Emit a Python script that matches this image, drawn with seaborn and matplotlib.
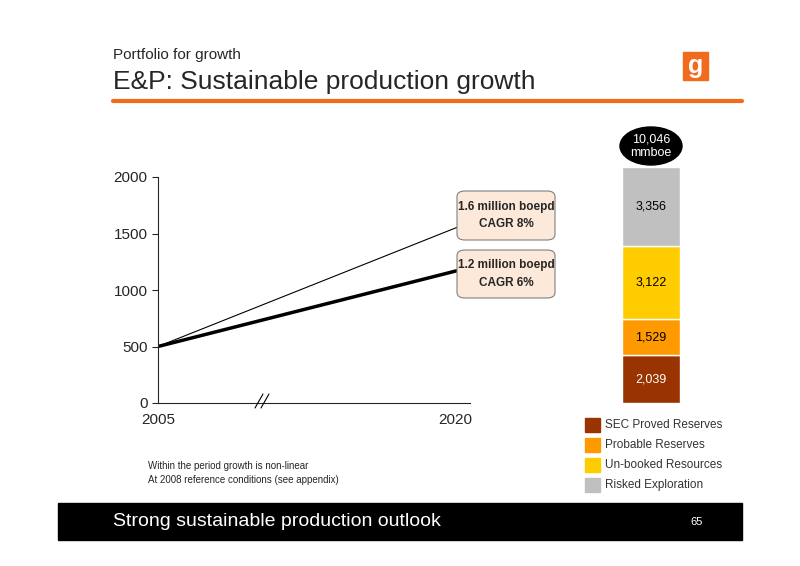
import matplotlib
matplotlib.use("Agg")
import matplotlib.pyplot as plt
import seaborn as sns
import pandas as pd
from matplotlib.patches import FancyBboxPatch, Ellipse, Rectangle

sns.set_style("white")
plt.rcParams['font.family'] = ['Liberation Sans', 'DejaVu Sans']

years = [2005, 2020]
high_case = [500, 1600]
base_case = [500, 1200]
res_labels = ["SEC Proved Reserves", "Probable Reserves", "Un-booked Resources", "Risked Exploration"]
res_values = [2039, 1529, 3122, 3356]
res_colors = ["#993300", "#FF9900", "#FFCC00", "#C0C0C0"]

W, H = 800, 566
fig = plt.figure(figsize=(8, 5.66), dpi=100)

def fx(x): return x / W
def fy(y): return 1 - y / H

# header
fig.text(fx(113), fy(55), "Portfolio for growth", fontsize=11, va="center")
fig.text(fx(113), fy(82), "E&P: Sustainable production growth", fontsize=19, va="center")
fig.add_artist(plt.Line2D([fx(113), fx(742)], [fy(101), fy(101)], color="#F26B1D", lw=3))
fig.add_artist(Rectangle((fx(683), fy(80)), fx(25), 28 / H, color="#F26B1D", transform=fig.transFigure))
fig.text(fx(695.5), fy(66), "g", color="white", fontsize=18, fontweight="bold", ha="center", va="center")

# line chart
ax = fig.add_axes([fx(158), fy(403), fx(470 - 158), (403 - 177) / H])
df = pd.DataFrame({"year": years * 2, "val": high_case + base_case,
                   "case": ["high"] * 2 + ["base"] * 2})
sns.lineplot(data=df, x="year", y="val", hue="case", size="case",
             palette={"high": "black", "base": "black"}, sizes={"high": 0.8, "base": 2.5},
             legend=False, ax=ax)
ax.set_xlim(2005, 2020)
ax.set_ylim(0, 2000)
ax.set_yticks([0, 500, 1000, 1500, 2000])
ax.set_xticks([])
ax.set_xlabel("")
ax.set_ylabel("")
ax.tick_params(labelsize=11, length=4, left=True)
ax.spines["top"].set_visible(False)
ax.spines["right"].set_visible(False)
fig.text(fx(158), fy(420), "2005", fontsize=11, ha="center", va="center")
fig.text(fx(455), fy(420), "2020", fontsize=11, ha="center", va="center")
for dx in (-3, 3):
    fig.add_artist(plt.Line2D([fx(258 + dx), fx(266 + dx)], [fy(408), fy(394)], color="black", lw=0.8))

for (y0, y1, txt) in [(191, 240, "1.6 million boepd\nCAGR 8%"), (250, 298, "1.2 million boepd\nCAGR 6%")]:
    fig.add_artist(FancyBboxPatch((fx(457), fy(y1)), fx(98), (y1 - y0) / H,
                                  boxstyle="round,pad=0,rounding_size=0.01",
                                  fc="#FCE9D9", ec="#808080", lw=0.8, transform=fig.transFigure))
    fig.text(fx(506), fy((y0 + y1) / 2), txt, fontsize=8.5, fontweight="bold",
             ha="center", va="center", linespacing=1.6)

# stacked bar
bx = fig.add_axes([fx(622), fy(403), fx(58), (403 - 167) / H])
bottom = 0
for lab, v, c in zip(res_labels, res_values, res_colors):
    bx.bar([0], [v], bottom=bottom, color=c, width=1.0)
    txtc = "white" if lab.startswith("SEC") else "black"
    bx.text(0, bottom + v / 2, f"{v:,}", ha="center", va="center", fontsize=9, color=txtc)
    bottom += v
bx.set_xlim(-0.5, 0.5)
bx.set_ylim(0, sum(res_values))
bx.axis("off")

fig.add_artist(Ellipse((fx(651), fy(146)), fx(62), 38 / H, color="black", transform=fig.transFigure))
fig.text(fx(651), fy(146), f"{sum(res_values):,}\nmmboe", color="white", fontsize=9,
         ha="center", va="center")

for i, (lab, c) in enumerate(zip(res_labels, res_colors)):
    y = 425 + 20 * i
    fig.add_artist(Rectangle((fx(585), fy(y + 7)), fx(15), 14 / H, color=c, transform=fig.transFigure))
    fig.text(fx(605), fy(y), lab, fontsize=8.5, va="center", color="#333333")

fig.text(fx(148), fy(466), "Within the period growth is non-linear", fontsize=7, va="center")
fig.text(fx(148), fy(480), "At 2008 reference conditions (see appendix)", fontsize=7, va="center")

# footer
fig.add_artist(Rectangle((fx(58), fy(540)), fx(684), 37 / H, color="black", transform=fig.transFigure))
fig.text(fx(113), fy(522), "Strong sustainable production outlook", color="white", fontsize=14, va="center")
fig.text(fx(690), fy(522), "65", color="white", fontsize=8, va="center")

fig.savefig("out.png", dpi=100)
